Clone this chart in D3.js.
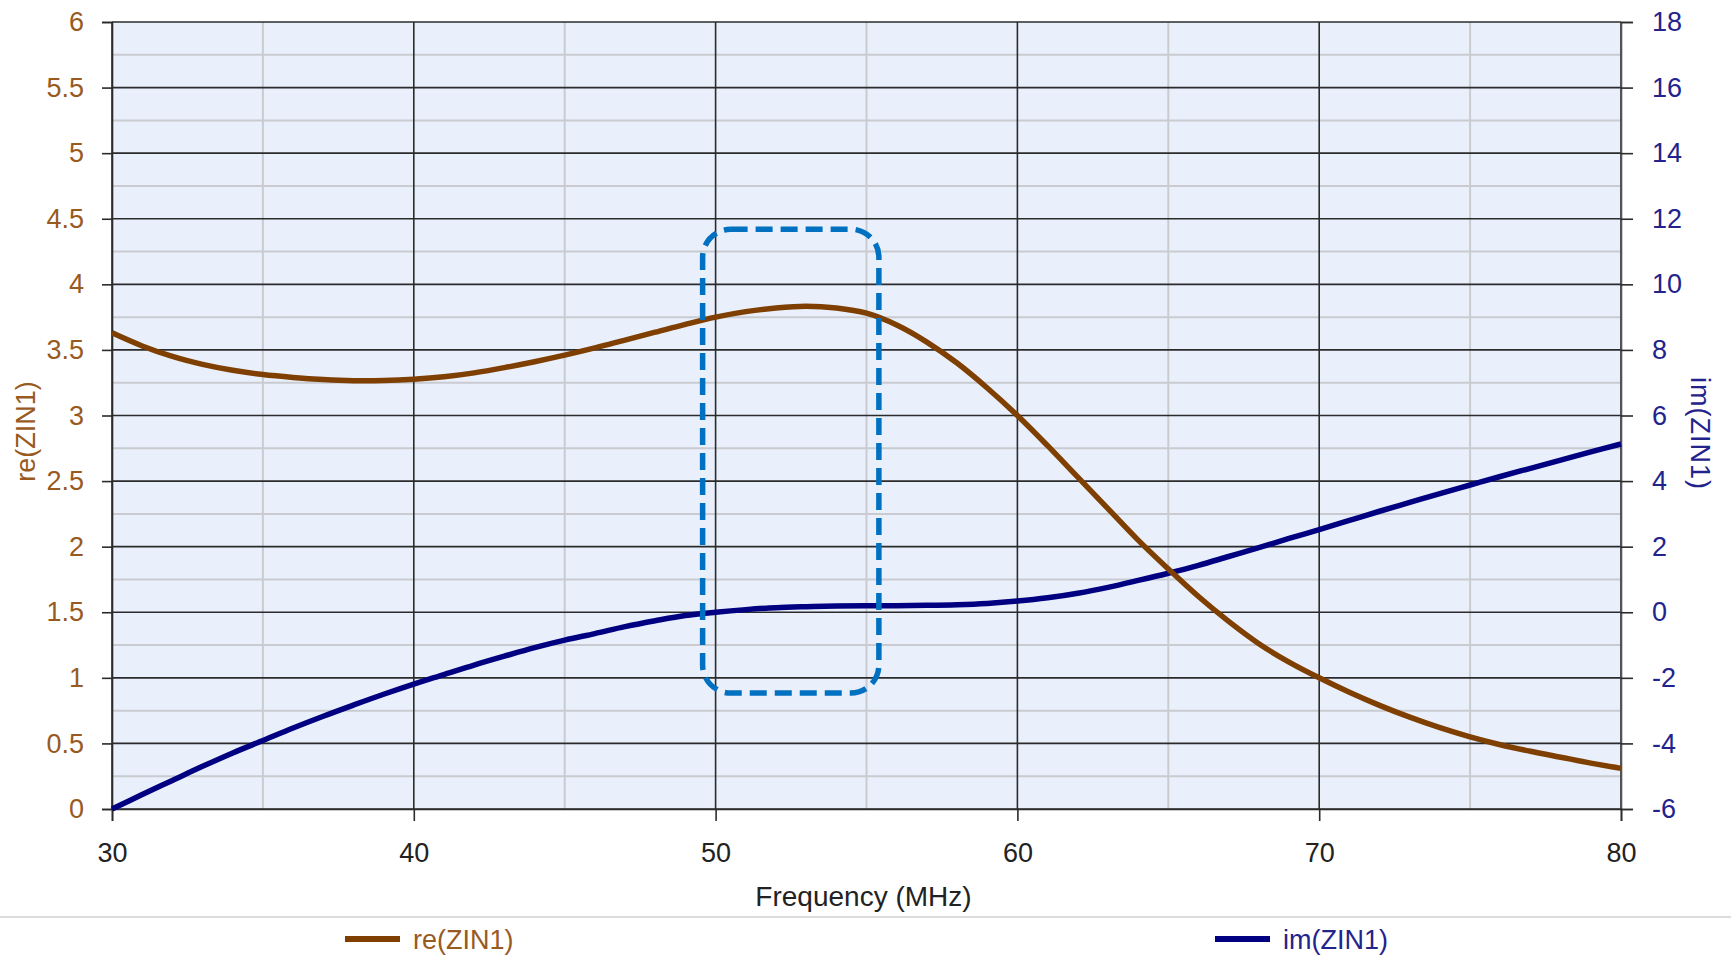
<!DOCTYPE html>
<html>
<head>
<meta charset="utf-8">
<script src="https://cdn.jsdelivr.net/npm/d3@7"></script>
<style>
  body { margin: 0; background: #fff; }
  svg text { font-family: "Liberation Sans", Arial, sans-serif; }
</style>
</head>
<body>
<div id="chart"></div>
<script>
// frequency points (MHz)
const freq = [30,31,32,33,34,35,36,37,38,39,40,41,42,43,44,45,46,47,48,49,50,
              51,52,53,54,55,56,57,58,59,60,61,62,63,64,65,66,67,68,69,70,
              71,72,73,74,75,76,77,78,79,80];
// re(ZIN1), left axis
const reZin = [3.63,3.53,3.45,3.39,3.345,3.312,3.29,3.274,3.265,3.266,3.276,3.295,3.325,3.365,3.41,3.46,3.515,3.575,3.635,3.695,3.75,
               3.792,3.82,3.833,3.82,3.78,3.69,3.56,3.40,3.21,3.00,2.77,2.53,2.29,2.05,1.83,1.62,1.43,1.26,1.12,1.00,
               0.89,0.79,0.70,0.62,0.55,0.49,0.44,0.395,0.35,0.31];
// im(ZIN1), right axis
const imZin = [-6.0,-5.56,-5.13,-4.70,-4.29,-3.91,-3.53,-3.17,-2.83,-2.50,-2.19,-1.90,-1.61,-1.34,-1.08,-0.85,-0.65,-0.44,-0.26,-0.10,0.0,
               0.08,0.14,0.17,0.19,0.20,0.20,0.21,0.23,0.27,0.34,0.44,0.58,0.76,0.97,1.19,1.43,1.70,1.97,2.25,2.52,
               2.80,3.08,3.35,3.62,3.88,4.14,4.39,4.64,4.89,5.13];

const xTicks = [30,40,50,60,70,80];
const xMinor = [35,45,55,65,75];
const yLeftTicks = [0,0.5,1,1.5,2,2.5,3,3.5,4,4.5,5,5.5,6];
const yLeftMinor = [0.25,0.75,1.25,1.75,2.25,2.75,3.25,3.75,4.25,4.75,5.25,5.75];
const yRightTicks = [-6,-4,-2,0,2,4,6,8,10,12,14,16,18];

// highlighted band (MHz, re units)
const boxFreq = [49.57, 55.41];
const boxRe = [0.884, 4.42];

const W = 1731, H = 956;
const margin = { top: 22, right: 110, bottom: 147, left: 112 };
const plotW = W - margin.left - margin.right;
const plotH = H - margin.top - margin.bottom;

const brownTxt = "#985a1f", brownLine = "#7f3f00";
const navyTxt = "#23238c", navyLine = "#000080";

const svg = d3.select("#chart").append("svg")
  .attr("width", W).attr("height", H);

const g = svg.append("g")
  .attr("transform", "translate(" + margin.left + "," + margin.top + ")");

const x = d3.scaleLinear().domain([30, 80]).range([0, plotW]);
const yL = d3.scaleLinear().domain([0, 6]).range([plotH, 0]);
const yR = d3.scaleLinear().domain([-6, 18]).range([plotH, 0]);

// plot background
g.append("rect")
  .attr("width", plotW).attr("height", plotH)
  .attr("fill", "#e9f0fc");

// minor grid
g.selectAll(".hminor").data(yLeftMinor).enter().append("line")
  .attr("x1", 0).attr("x2", plotW)
  .attr("y1", d => yL(d)).attr("y2", d => yL(d))
  .attr("stroke", "#c9cbd0").attr("stroke-width", 2);
g.selectAll(".vminor").data(xMinor).enter().append("line")
  .attr("x1", d => x(d)).attr("x2", d => x(d))
  .attr("y1", 0).attr("y2", plotH)
  .attr("stroke", "#c9cbd0").attr("stroke-width", 2);

// major grid
g.selectAll(".hmajor").data(yLeftTicks).enter().append("line")
  .attr("x1", 0).attr("x2", plotW)
  .attr("y1", d => yL(d)).attr("y2", d => yL(d))
  .attr("stroke", "#2b2b2b").attr("stroke-width", 1.6);
g.selectAll(".vmajor").data(xTicks).enter().append("line")
  .attr("x1", d => x(d)).attr("x2", d => x(d))
  .attr("y1", 0).attr("y2", plotH)
  .attr("stroke", "#2b2b2b").attr("stroke-width", 1.6);

// left axis
const axL = g.append("g")
  .call(d3.axisLeft(yL).tickValues(yLeftTicks).tickSize(10).tickPadding(18)
        .tickFormat(d => String(d)));
axL.select(".domain").attr("stroke", "#2b2b2b").attr("stroke-width", 1.6);
axL.selectAll(".tick line").attr("stroke", "#2b2b2b").attr("stroke-width", 1.6);
axL.selectAll("text").attr("fill", brownTxt).style("font-size", "27px");

// right axis (plain hyphen for negatives)
const axR = g.append("g")
  .attr("transform", "translate(" + plotW + ",0)")
  .call(d3.axisRight(yR).tickValues(yRightTicks).tickSize(12).tickPadding(19)
        .tickFormat(d => String(d)));
axR.select(".domain").attr("stroke", "#555").attr("stroke-width", 1.6);
axR.selectAll(".tick line").attr("stroke", "#2b2b2b").attr("stroke-width", 1.6);
axR.selectAll("text").attr("fill", navyTxt).style("font-size", "27px");

// bottom axis
const axB = g.append("g")
  .attr("transform", "translate(0," + plotH + ")")
  .call(d3.axisBottom(x).tickValues(xTicks).tickSize(12).tickPadding(22));
axB.select(".domain").attr("stroke", "#2b2b2b").attr("stroke-width", 1.6);
axB.selectAll(".tick line").attr("stroke", "#2b2b2b").attr("stroke-width", 1.6);
axB.selectAll("text").attr("fill", "#222").style("font-size", "27px");

// curves
const reLine = d3.line()
  .x((d, i) => x(freq[i])).y(d => yL(d))
  .curve(d3.curveCatmullRom.alpha(0.5));
const imLine = d3.line()
  .x((d, i) => x(freq[i])).y(d => yR(d))
  .curve(d3.curveCatmullRom.alpha(0.5));

g.append("path").datum(imZin)
  .attr("d", imLine)
  .attr("fill", "none").attr("stroke", navyLine).attr("stroke-width", 5.5);
g.append("path").datum(reZin)
  .attr("d", reLine)
  .attr("fill", "none").attr("stroke", brownLine).attr("stroke-width", 5.5);

// dashed highlight box
g.append("rect")
  .attr("x", x(boxFreq[0])).attr("y", yL(boxRe[1]))
  .attr("width", x(boxFreq[1]) - x(boxFreq[0]))
  .attr("height", yL(boxRe[0]) - yL(boxRe[1]))
  .attr("rx", 28).attr("ry", 28)
  .attr("fill", "none")
  .attr("stroke", "#0070c0").attr("stroke-width", 5.5)
  .attr("stroke-dasharray", "17,8");

// axis titles
svg.append("text")
  .attr("transform", "translate(26," + (margin.top + plotH / 2 + 16) + ") rotate(-90)")
  .attr("text-anchor", "middle").attr("dominant-baseline", "central")
  .attr("fill", brownTxt).style("font-size", "27px")
  .text("re(ZIN1)");

svg.append("text")
  .attr("transform", "translate(1700," + (margin.top + plotH / 2 + 18) + ") rotate(90)")
  .attr("text-anchor", "middle").attr("dominant-baseline", "central")
  .attr("fill", navyTxt).style("font-size", "27px")
  .style("letter-spacing", "1px")
  .text("im(ZIN1)");

svg.append("text")
  .attr("x", margin.left + plotW / 2 - 3).attr("y", 906)
  .attr("text-anchor", "middle")
  .attr("fill", "#222").style("font-size", "28px")
  .text("Frequency (MHz)");

// separator
svg.append("line")
  .attr("x1", 0).attr("x2", W).attr("y1", 917).attr("y2", 917)
  .attr("stroke", "#dcdcdc").attr("stroke-width", 2);

// legend
const legend = [
  { name: "re(ZIN1)", line: brownLine, txt: brownTxt, x: 345 },
  { name: "im(ZIN1)", line: navyLine, txt: navyTxt, x: 1215 }
];
legend.forEach(l => {
  svg.append("line")
    .attr("x1", l.x).attr("x2", l.x + 55).attr("y1", 939).attr("y2", 939)
    .attr("stroke", l.line).attr("stroke-width", 6);
  svg.append("text")
    .attr("x", l.x + 68).attr("y", 940)
    .attr("dominant-baseline", "central")
    .attr("fill", l.txt).style("font-size", "27px")
    .text(l.name);
});
</script>
</body>
</html>
